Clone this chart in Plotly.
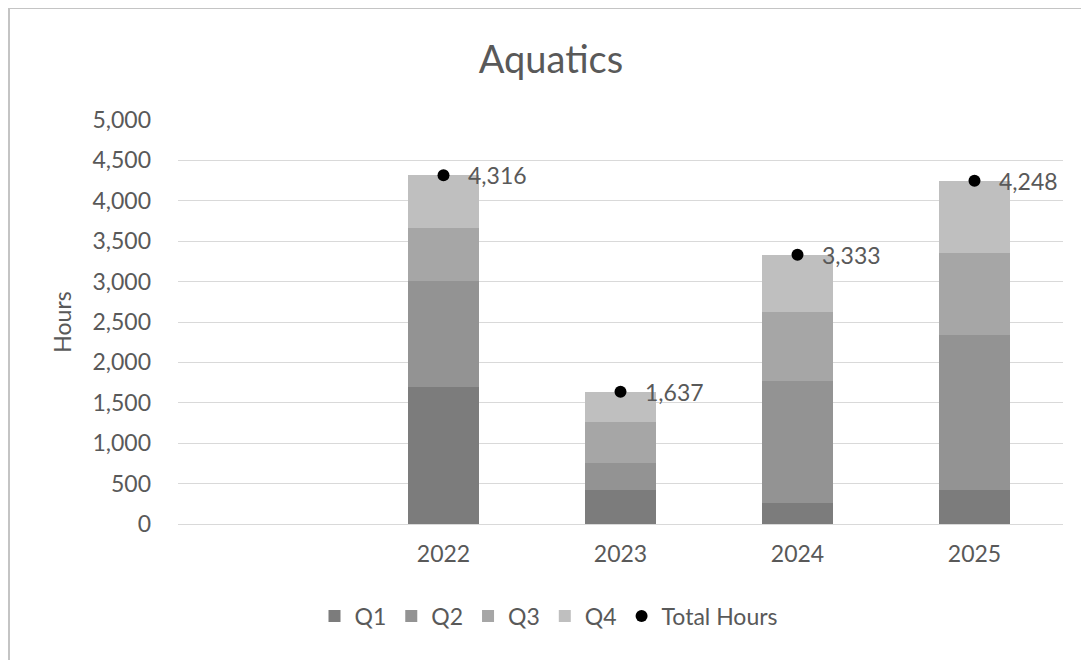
"""
plot.py — Aquatics hours by quarter (stacked bars + total markers)
"""

import plotly.graph_objects as go

# ─────────────────────────────────────────────────────────────────────────────
# DATA
# ─────────────────────────────────────────────────────────────────────────────

categories = [" ", "2022", "2023", "2024", "2025"]   # first slot is left empty
years = ["2022", "2023", "2024", "2025"]

q1 = [1700, 420, 260, 420]
q2 = [1310, 340, 1510, 1920]
q3 = [650, 505, 850, 1010]
q4 = [656, 372, 713, 898]
total_hours = [4316, 1637, 3333, 4248]

y_ticks = [0, 500, 1000, 1500, 2000, 2500, 3000, 3500, 4000, 4500, 5000]

# ─────────────────────────────────────────────────────────────────────────────
# STYLE
# ─────────────────────────────────────────────────────────────────────────────

FONT = "Lato"
TEXT = "#595959"
GRID = "#d9d9d9"
COLORS = {"Q1": "#7c7c7c", "Q2": "#939393", "Q3": "#a6a6a6", "Q4": "#bfbfbf"}

# page body adds an 8px margin, so the figure is sized to fit what is left
OFF = 8
W, H = 1089 - OFF, 660 - OFF
# plot area in screen pixels: x 178..1063, y 120..524
L, T = 178 - OFF, 120 - OFF
R, B = W - (1063 - OFF), H - (524 - OFF)
PLOT_W, PLOT_H = W - L - R, H - T - B


def px_x(p):
    """Screen column -> paper x."""
    return (p - OFF - L) / PLOT_W


def px_y(p):
    """Screen row -> paper y."""
    return (H - B - (p - OFF)) / PLOT_H


fig = go.Figure()

for name, vals in zip(["Q1", "Q2", "Q3", "Q4"], [q1, q2, q3, q4]):
    fig.add_trace(go.Bar(
        x=years, y=vals,
        name=name,
        marker_color=COLORS[name],
        marker_line_width=0,
    ))

fig.add_trace(go.Scatter(
    x=years, y=total_hours,
    name="Total Hours",
    mode="markers",
    marker=dict(color="black", size=12),
))

# data labels next to the total markers (category axis -> use slot index)
for yr, tot in zip(years, total_hours):
    fig.add_annotation(
        x=categories.index(yr), y=tot, text=f"{tot:,}",
        showarrow=False, xanchor="left", yanchor="middle",
        xshift=22, font=dict(family=FONT, size=23, color=TEXT),
    )

fig.update_layout(
    width=W, height=H,
    barmode="stack",
    bargap=0.6,
    paper_bgcolor="white",
    plot_bgcolor="white",
    margin=dict(l=L, r=R, t=T, b=B),
    font=dict(family=FONT, color=TEXT, size=23),
    title=dict(
        text="Aquatics",
        font=dict(family=FONT, size=38, color=TEXT),
        x=px_x(551), xanchor="center", xref="paper",
        y=1 - (60 - OFF) / H, yanchor="middle",
    ),
    xaxis=dict(
        type="category",
        categoryorder="array",
        categoryarray=categories,
        range=[-0.5, len(categories) - 0.5],
        showgrid=False,
        showline=False,
        ticks="",
        ticklabelstandoff=14,
        tickfont=dict(size=23, color=TEXT),
    ),
    yaxis=dict(
        range=[0, 5000],
        tickvals=y_ticks,
        tickformat=",d",
        showgrid=True,
        gridcolor=GRID,
        gridwidth=1,
        zeroline=True,
        zerolinecolor=GRID,
        zerolinewidth=1,
        showline=False,
        ticks="",
        ticklabelstandoff=26,
        tickfont=dict(size=23, color=TEXT),
        title=dict(text="Hours", font=dict(size=23, color=TEXT), standoff=14),
    ),
    legend=dict(
        orientation="h",
        x=px_x(549), xanchor="center",
        y=px_y(616), yanchor="middle",
        font=dict(size=23, color=TEXT),
        traceorder="normal",
        itemwidth=30,
    ),
    shapes=[
        # outer chart border (top and left edges visible in the frame)
        dict(type="line", xref="paper", yref="paper",
             x0=px_x(9), x1=px_x(1100), y0=px_y(8), y1=px_y(8),
             line=dict(color="#c4c4c4", width=2)),
        dict(type="line", xref="paper", yref="paper",
             x0=px_x(9), x1=px_x(9), y0=px_y(8), y1=px_y(670),
             line=dict(color="#c4c4c4", width=2)),
    ],
)

fig.write_html("out.html")
